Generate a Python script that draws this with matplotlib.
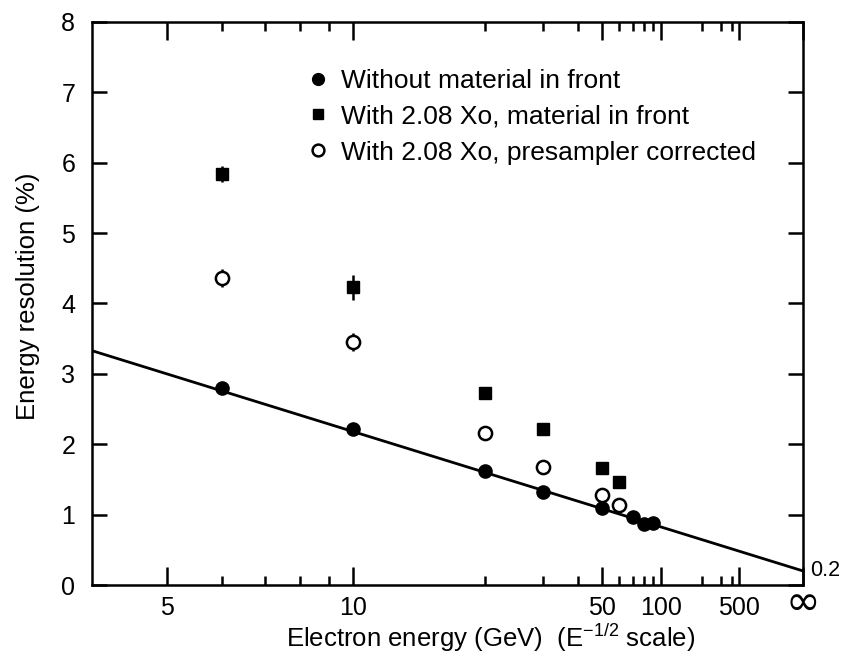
import matplotlib
matplotlib.use('Agg')
import matplotlib.pyplot as plt
from matplotlib.lines import Line2D
import numpy as np

plt.rcParams['font.family'] = ['Liberation Sans', 'DejaVu Sans']
plt.rcParams['mathtext.fontset'] = 'custom'
plt.rcParams['mathtext.rm'] = 'Liberation Sans'

# electron energy (GeV) and resolution (%)
E_nomat = [6, 10, 20, 30, 50, 70, 80, 90]
res_nomat = [2.80, 2.21, 1.62, 1.32, 1.09, 0.97, 0.87, 0.88]

E_mat = [6, 10, 20, 30, 50, 60]
res_mat = [5.84, 4.23, 2.73, 2.22, 1.66, 1.47]
err_mat = [0.12, 0.18, 0.08, 0.0, 0.0, 0.0]

E_pre = [6, 10, 20, 30, 50, 60]
res_pre = [4.36, 3.45, 2.16, 1.68, 1.28, 1.14]
err_pre = [0.13, 0.13, 0.0, 0.0, 0.0, 0.0]

# straight line fit, from E = 4 GeV to E = infinity
fit_E = [4, np.inf]
fit_res = [3.33, 0.2]

major_E = [5, 10, 50, 100, 500, np.inf]
major_lab = ['5', '10', '50', '100', '500', '']
inf_lab = '\u221e'
minor_E = [6, 7, 8, 9, 20, 30, 40, 60, 70, 80, 90, 200, 300, 400]

labels = ['Without material in front',
          'With 2.08 Xo, material in front',
          'With 2.08 Xo, presampler corrected']


def tx(E):
    # E^-1/2 scale
    return 1.0 / np.sqrt(np.asarray(E, dtype=float))


fig = plt.figure(figsize=(8.43, 6.62), dpi=100)
ax = fig.add_axes([0.109, 0.1163, 0.8435, 0.8505])

ax.plot(tx(fit_E), fit_res, color='black', lw=2.0, zorder=2)

ax.errorbar(tx(E_mat), res_mat, yerr=err_mat, fmt='s', color='black',
            ms=8, elinewidth=1.8, capsize=0, zorder=3)
ax.errorbar(tx(E_pre), res_pre, yerr=err_pre, fmt='o', color='black',
            mfc='white', mec='black', mew=1.8, ms=9.5, elinewidth=1.8,
            capsize=0, zorder=3)
ax.plot(tx(E_nomat), res_nomat, 'o', color='black', ms=9.5, zorder=4)

ax.annotate('0.2', xy=(0, fit_res[-1]), xytext=(5, 0),
            textcoords='offset points', ha='left', va='center',
            fontsize=15.5, annotation_clip=False)

ax.set_xlim(0.5, 0.0)
ax.set_ylim(0, 8)

ax.set_xticks(tx(major_E))
ax.set_xticklabels(major_lab)
ax.set_xticks(tx(minor_E), minor=True)
ax.set_yticks(range(0, 9))

ax.tick_params(axis='x', which='major', direction='in', length=13, width=1.8,
               top=True, bottom=True, labelsize=18, pad=8)
ax.tick_params(axis='x', which='minor', direction='in', length=6.5, width=1.8,
               top=True, bottom=True)
ax.tick_params(axis='y', which='major', direction='in', length=11, width=1.8,
               left=True, right=True, labelsize=18, pad=12)
for s in ax.spines.values():
    s.set_linewidth(1.8)

# the infinity sign is drawn much wider in the original, put it by hand
ax.annotate(inf_lab, xy=(tx(major_E[-1]), 0), xytext=(0, -13),
            textcoords='offset points', ha='center', va='center',
            family='DejaVu Sans', fontsize=30, annotation_clip=False)

ax.set_ylabel('Energy resolution (%)', fontsize=18.5)
ax.yaxis.set_label_coords(-0.073, 0.512)
ax.set_xlabel('Electron energy (GeV)  (E$^{\\mathregular{-1/2}}$ scale)',
              fontsize=18.5)
ax.xaxis.set_label_coords(0.56, -0.064)

handles = [Line2D([], [], ls='none', marker='o', color='black', ms=8.5),
           Line2D([], [], ls='none', marker='s', color='black', ms=7),
           Line2D([], [], ls='none', marker='o', mfc='white', mec='black',
                  mew=1.8, ms=8.5)]
fig.legend(handles, labels, loc='upper left', bbox_to_anchor=(0.362, 0.896),
           frameon=False, fontsize=19, handlelength=1.0, handletextpad=0.36,
           labelspacing=0.45, borderpad=0, borderaxespad=0)

plt.savefig('out.png', dpi=100)
